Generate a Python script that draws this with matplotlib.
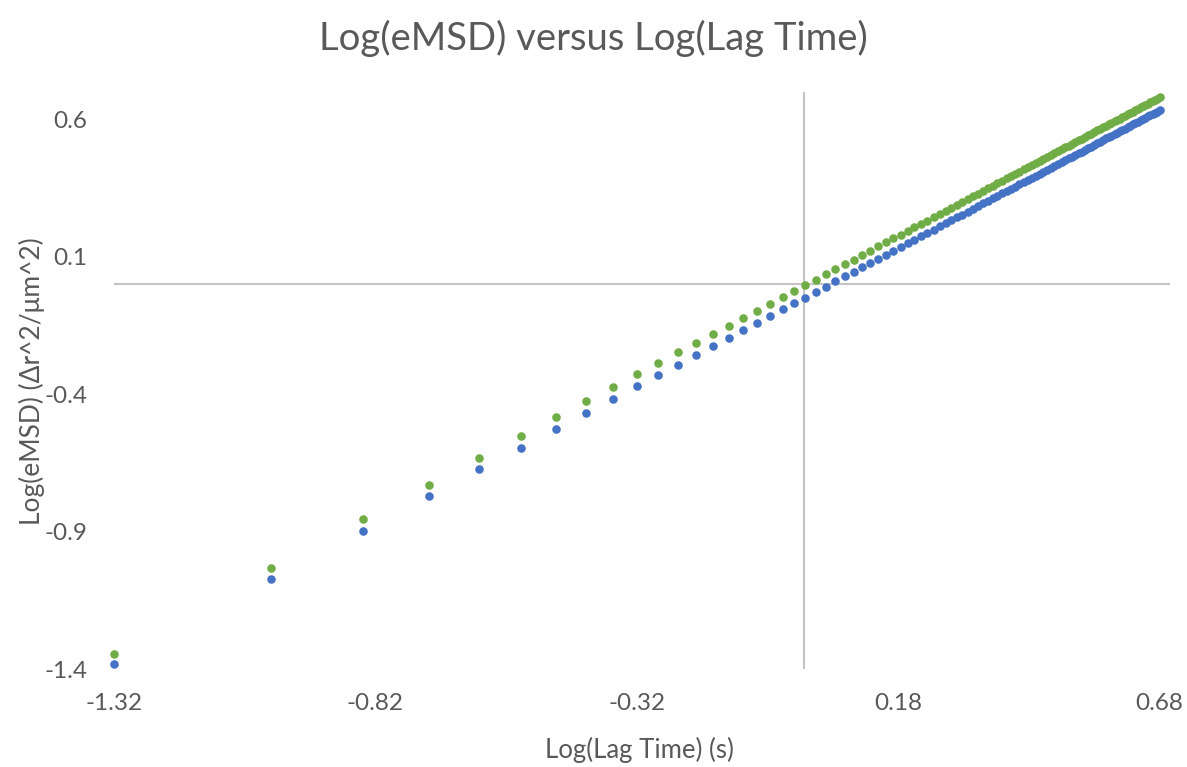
import matplotlib
matplotlib.use('Agg')
import matplotlib.pyplot as plt

# log10 of lag time (s), 100 lag steps
log_lag = [
    -1.320, -1.019, -0.843, -0.718, -0.621, -0.542, -0.475, -0.417, -0.366, -0.320,
    -0.279, -0.241, -0.206, -0.174, -0.144, -0.116, -0.090, -0.065, -0.041, -0.019,
    0.002, 0.022, 0.042, 0.060, 0.078, 0.095, 0.111, 0.127, 0.142, 0.157,
    0.171, 0.185, 0.199, 0.211, 0.224, 0.236, 0.248, 0.260, 0.271, 0.282,
    0.293, 0.303, 0.313, 0.323, 0.333, 0.343, 0.352, 0.361, 0.370, 0.379,
    0.388, 0.396, 0.404, 0.412, 0.420, 0.428, 0.436, 0.443, 0.451, 0.458,
    0.465, 0.472, 0.479, 0.486, 0.493, 0.500, 0.506, 0.513, 0.519, 0.525,
    0.531, 0.537, 0.543, 0.549, 0.555, 0.561, 0.566, 0.572, 0.578, 0.583,
    0.588, 0.594, 0.599, 0.604, 0.609, 0.614, 0.620, 0.624, 0.629, 0.634,
    0.639, 0.644, 0.648, 0.653, 0.658, 0.662, 0.667, 0.671, 0.676, 0.680,
]

# log10 eMSD, lower (blue) series
log_msd_blue = [
    -1.383, -1.073, -0.896, -0.771, -0.673, -0.594, -0.527, -0.468, -0.417, -0.371,
    -0.330, -0.292, -0.257, -0.224, -0.194, -0.166, -0.140, -0.115, -0.091, -0.069,
    -0.048, -0.028, -0.008, 0.011, 0.029, 0.046, 0.062, 0.078, 0.093, 0.108,
    0.122, 0.136, 0.150, 0.162, 0.175, 0.187, 0.199, 0.211, 0.222, 0.233,
    0.244, 0.254, 0.265, 0.275, 0.285, 0.295, 0.304, 0.313, 0.322, 0.331,
    0.340, 0.348, 0.356, 0.364, 0.372, 0.380, 0.388, 0.395, 0.403, 0.410,
    0.417, 0.424, 0.431, 0.438, 0.445, 0.452, 0.458, 0.465, 0.471, 0.477,
    0.483, 0.489, 0.495, 0.501, 0.507, 0.514, 0.519, 0.525, 0.531, 0.536,
    0.541, 0.547, 0.552, 0.557, 0.562, 0.567, 0.573, 0.577, 0.582, 0.587,
    0.592, 0.597, 0.601, 0.606, 0.611, 0.615, 0.620, 0.624, 0.629, 0.633,
]

# log10 eMSD, upper (green) series
log_msd_green = [
    -1.345, -1.033, -0.855, -0.729, -0.631, -0.552, -0.484, -0.426, -0.374, -0.328,
    -0.287, -0.248, -0.213, -0.181, -0.151, -0.122, -0.096, -0.071, -0.047, -0.025,
    -0.003, 0.017, 0.037, 0.055, 0.073, 0.090, 0.106, 0.123, 0.138, 0.153,
    0.167, 0.181, 0.195, 0.207, 0.220, 0.232, 0.245, 0.257, 0.268, 0.279,
    0.290, 0.300, 0.310, 0.320, 0.330, 0.340, 0.349, 0.358, 0.368, 0.377,
    0.386, 0.394, 0.402, 0.410, 0.418, 0.426, 0.434, 0.441, 0.449, 0.456,
    0.463, 0.470, 0.477, 0.484, 0.492, 0.499, 0.505, 0.512, 0.518, 0.524,
    0.530, 0.536, 0.542, 0.548, 0.554, 0.560, 0.565, 0.571, 0.577, 0.582,
    0.587, 0.593, 0.598, 0.603, 0.608, 0.614, 0.620, 0.624, 0.629, 0.634,
    0.639, 0.644, 0.648, 0.653, 0.658, 0.662, 0.667, 0.671, 0.676, 0.680,
]

x_ticks = [-1.32, -0.82, -0.32, 0.18, 0.68]
y_ticks = [-1.4, -0.9, -0.4, 0.1, 0.6]

plt.rcParams['font.family'] = ['Lato', 'DejaVu Sans']
txt = '#595959'

W, H = 1187, 767
fig = plt.figure(figsize=(W / 100, H / 100), dpi=100)
# plot area in pixels: left 114, right 1170, top 92, bottom 669
ax = fig.add_axes([114 / W, 1 - 669 / H, (1170 - 114) / W, (669 - 92) / H])

# Excel-style axes crossing at zero
ax.axvline(0, color='#C4C4C4', lw=1.5, zorder=1)
ax.axhline(0, color='#C4C4C4', lw=1.5, zorder=1)

ax.scatter(log_lag, log_msd_blue, s=38, color='#4472C4', lw=0, zorder=3, clip_on=False)
ax.scatter(log_lag, log_msd_green, s=38, color='#70AD47', lw=0, zorder=3, clip_on=False)

ax.set_xlim(-1.32, 0.70)
ax.set_ylim(-1.4, 0.7)
ax.set_xticks(x_ticks)
ax.set_xticklabels([f'{v:.2f}' for v in x_ticks])
ax.set_yticks(y_ticks)
ax.set_yticklabels([f'{v:.1f}' for v in y_ticks])
ax.tick_params(length=0, labelsize=17.5, colors=txt)
ax.tick_params(axis='x', pad=17)
ax.tick_params(axis='y', pad=19)
for s in ax.spines.values():
    s.set_visible(False)

fig.text(639 / W, 1 - 750 / H, 'Log(Lag Time) (s)', fontsize=18.5, color=txt,
         ha='center', va='center')
fig.text(32 / W, 1 - 381 / H, 'Log(eMSD) (Δr^2/μm^2)', fontsize=19, color=txt,
         ha='center', va='center', rotation=90)
fig.text(0.5, 1 - 38 / H, 'Log(eMSD) versus Log(Lag Time)', fontsize=27.5,
         color=txt, ha='center', va='center')

fig.savefig('out.png', dpi=100)
